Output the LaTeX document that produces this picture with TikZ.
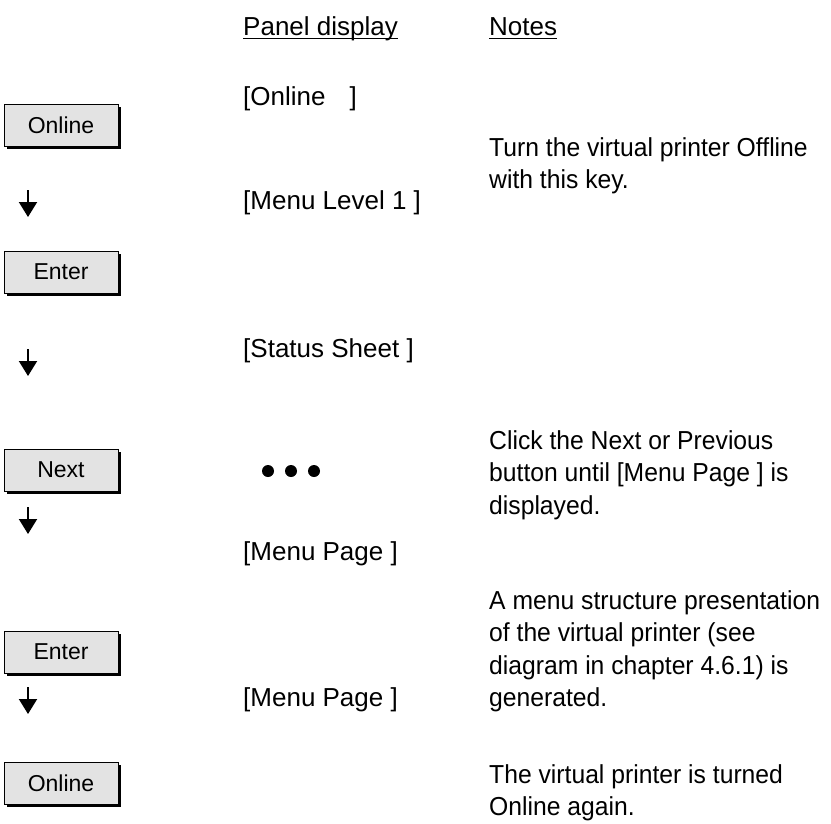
\documentclass[tikz,border=0pt]{standalone}
\usepackage{fontspec}
\setmainfont{Liberation Sans}
\newfontfamily\notefont[FakeStretch=0.95]{Liberation Sans}
\usetikzlibrary{arrows.meta,shadows}

\tikzset{
  key/.style={draw, line width=0.8pt, fill=black!11, minimum width=114pt,
    minimum height=42pt, inner sep=0pt, font=\fontsize{23}{27}\selectfont,
    general shadow={fill=black, shadow xshift=3pt, shadow yshift=-3pt}},
  disp/.style={anchor=base west, inner sep=0pt, font=\fontsize{26}{32}\selectfont},
  note/.style={anchor=north west, inner sep=0pt, align=left,
    font=\notefont\fontsize{26}{32.5}\selectfont},
  flow/.style={line width=2pt, -{Triangle[width=18pt,length=15pt]}},
}

\begin{document}
\begin{tikzpicture}[x=1pt,y=-1pt]
  \useasboundingbox (0,0) rectangle (831,823);
  % headings
  \node[disp] (hdPanel) at (243,35) {Panel display};
  \node[disp] (hdNotes) at (489,35) {Notes};
  \draw[line width=0.8pt] ([yshift=-3pt]hdPanel.base west) -- ([yshift=-3pt]hdPanel.base east);
  \draw[line width=0.8pt] ([yshift=-3pt]hdNotes.base west) -- ([yshift=-3pt]hdNotes.base east);
  % keys
  \node[key] (kOnlineA) at (61,125) {Online};
  \node[key] (kEnterA)  at (61,272) {Enter};
  \node[key] (kNext)    at (61,470) {Next};
  \node[key] (kEnterB)  at (61,652) {Enter};
  \node[key] (kOnlineB) at (61,783) {Online};
  % arrows
  \foreach \y [count=\i] in {190,349,507,687} {
    \coordinate (ar\i) at (28,\y);
    \draw[flow] (ar\i) -- ++(0,27);
  }
  % panel display
  \node[disp] (pOnline) at (243,105) {[Online\hspace{24pt}]};
  \node[disp] (pLevel)  at (243,209) {[Menu Level 1 ]};
  \node[disp] (pStatus) at (243,357) {[Status Sheet ]};
  \foreach \x in {268,291,314}
    \fill (\x,471) circle [radius=6];
  \node[disp] (pPageA)  at (243,560) {[Menu Page ]};
  \node[disp] (pPageB)  at (243,706) {[Menu Page ]};
  % notes
  \node[note] (nOff)  at (489,137) {Turn the virtual printer Offline\\with this key.};
  \node[note] (nNext) at (489,430) {Click the Next or Previous\\button until [Menu Page ] is\\displayed.};
  \node[note] (nMenu) at (489,590) {A menu structure presentation\\of the virtual printer (see\\diagram in chapter 4.6.1) is\\generated.};
  \node[note] (nOn)   at (489,764) {The virtual printer is turned\\Online again.};
\end{tikzpicture}
\end{document}
